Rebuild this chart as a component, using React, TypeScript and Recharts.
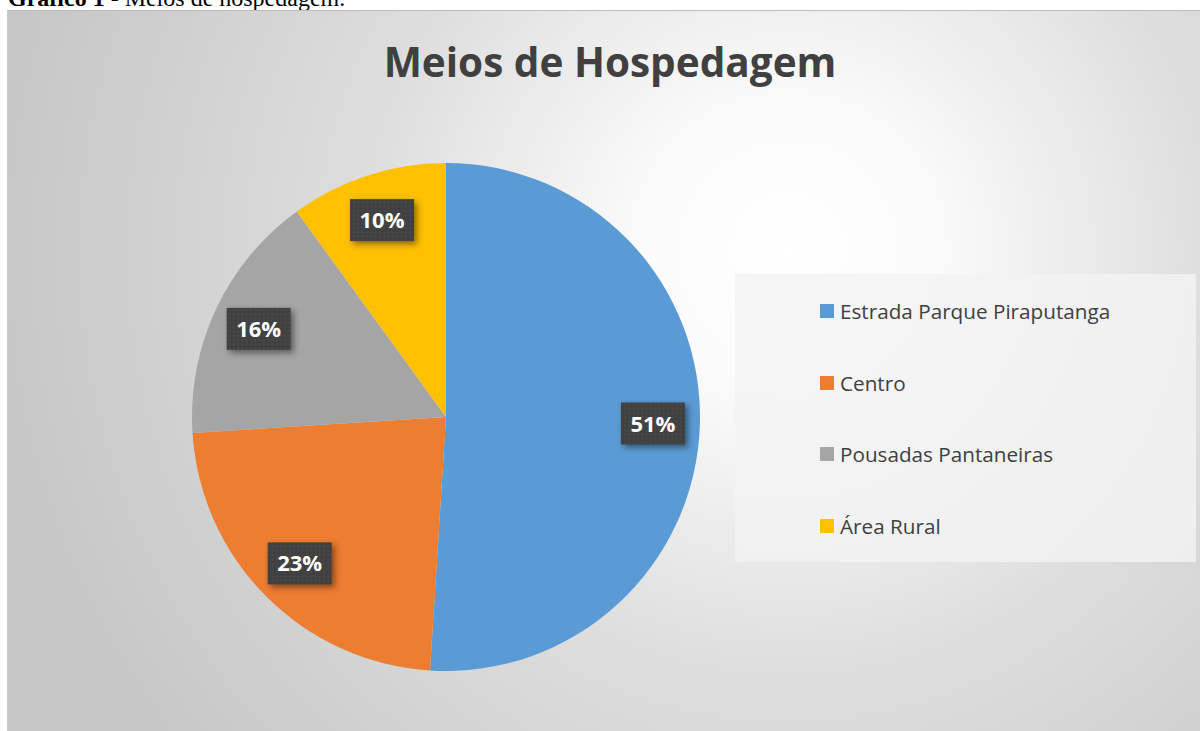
import React from 'react';
import { PieChart, Pie, Cell, Legend } from 'recharts';

const categories = ['Estrada Parque Piraputanga', 'Centro', 'Pousadas Pantaneiras', 'Área Rural'];
const shares = [51, 23, 16, 10];
const sliceColors = ['#5B9BD5', '#ED7D31', '#A5A5A5', '#FFC000'];

const data = categories.map((name, i) => ({ name, value: shares[i] }));

const RADIAN = Math.PI / 180;
const FONT = '"Open Sans", "Noto Sans", sans-serif';

const PercentLabel = (props: any) => {
  const { cx, cy, midAngle, value, index } = props;
  const r = 207;
  const x = cx + r * Math.cos(-midAngle * RADIAN);
  const y = cy + r * Math.sin(-midAngle * RADIAN);
  const w = 64;
  const h = 42;
  const pid = `dots-${index}`;
  return (
    <g>
      <defs>
        <pattern id={pid} width="4.3" height="4.3" patternUnits="userSpaceOnUse">
          <rect width="4.3" height="4.3" fill="#404040" />
          <circle cx="2.15" cy="2.15" r="0.9" fill="#4f4f4f" />
        </pattern>
      </defs>
      <rect
        x={x - w / 2}
        y={y - h / 2}
        width={w}
        height={h}
        fill={`url(#${pid})`}
        style={{ filter: 'drop-shadow(3px 3px 3px rgba(0,0,0,0.45))' }}
      />
      <text
        x={x}
        y={y + 8}
        textAnchor="middle"
        fill="#ffffff"
        fontFamily={FONT}
        fontWeight={700}
        fontSize={22}
      >
        {`${value}%`}
      </text>
    </g>
  );
};

const LegendBox = () => (
  <div
    style={{
      width: 461,
      height: 288,
      background: 'rgba(243,243,243,0.82)',
      position: 'relative',
      fontFamily: FONT,
    }}
  >
    {data.map((d, i) => (
      <div
        key={d.name}
        style={{
          position: 'absolute',
          left: 85,
          top: 37 + i * 71.7 - 14,
          height: 28,
          display: 'flex',
          alignItems: 'center',
          whiteSpace: 'nowrap',
        }}
      >
        <span
          style={{
            display: 'inline-block',
            width: 14,
            height: 14,
            background: sliceColors[i],
            marginRight: 6,
          }}
        />
        <span style={{ fontSize: 20.7, color: '#404040' }}>{d.name}</span>
      </div>
    ))}
  </div>
);

export default function App() {
  return (
    <div
      style={{
        position: 'fixed',
        left: 0,
        top: 0,
        width: 1200,
        height: 731,
        overflow: 'hidden',
        background: '#ffffff',
      }}
    >
      <svg width={1200} height={10} style={{ position: 'absolute', left: 0, top: 0, overflow: 'visible' }}>
        <text x={8} y={5.5} fontFamily='"Liberation Serif", "Times New Roman", serif' fontSize={24} fill="#000">
          <tspan fontWeight={700}>Gráfico 1 -</tspan>
          <tspan> Meios de hospedagem.</tspan>
        </text>
      </svg>
      <div
        style={{
          position: 'absolute',
          left: 7,
          top: 10,
          width: 1195,
          height: 723,
          borderTop: '1px solid #bdbdbd',
          borderLeft: '1px solid #c9c9c9',
          background:
            'radial-gradient(circle at 780px 240px, #ffffff 0px, #fbfbfb 140px, #dedede 420px, #c6c6c6 800px)',
        }}
      >
        <PieChart width={1192} height={721} margin={{ top: 0, right: 0, bottom: 0, left: 0 }}>
          <text
            x={602}
            y={66}
            textAnchor="middle"
            fontFamily={FONT}
            fontWeight={700}
            fontSize={40.5}
            fill="#404040"
          >
            Meios de Hospedagem
          </text>
          <Pie
            data={data}
            dataKey="value"
            nameKey="name"
            cx={438}
            cy={406}
            outerRadius={254}
            startAngle={90}
            endAngle={-270}
            stroke="none"
            isAnimationActive={false}
            labelLine={false}
            label={PercentLabel}
          >
            {data.map((d, i) => (
              <Cell key={d.name} fill={sliceColors[i]} />
            ))}
          </Pie>
          <Legend
            content={() => <LegendBox />}
            wrapperStyle={{ left: 727, top: 263, width: 461, height: 288 }}
          />
        </PieChart>
      </div>
    </div>
  );
}
